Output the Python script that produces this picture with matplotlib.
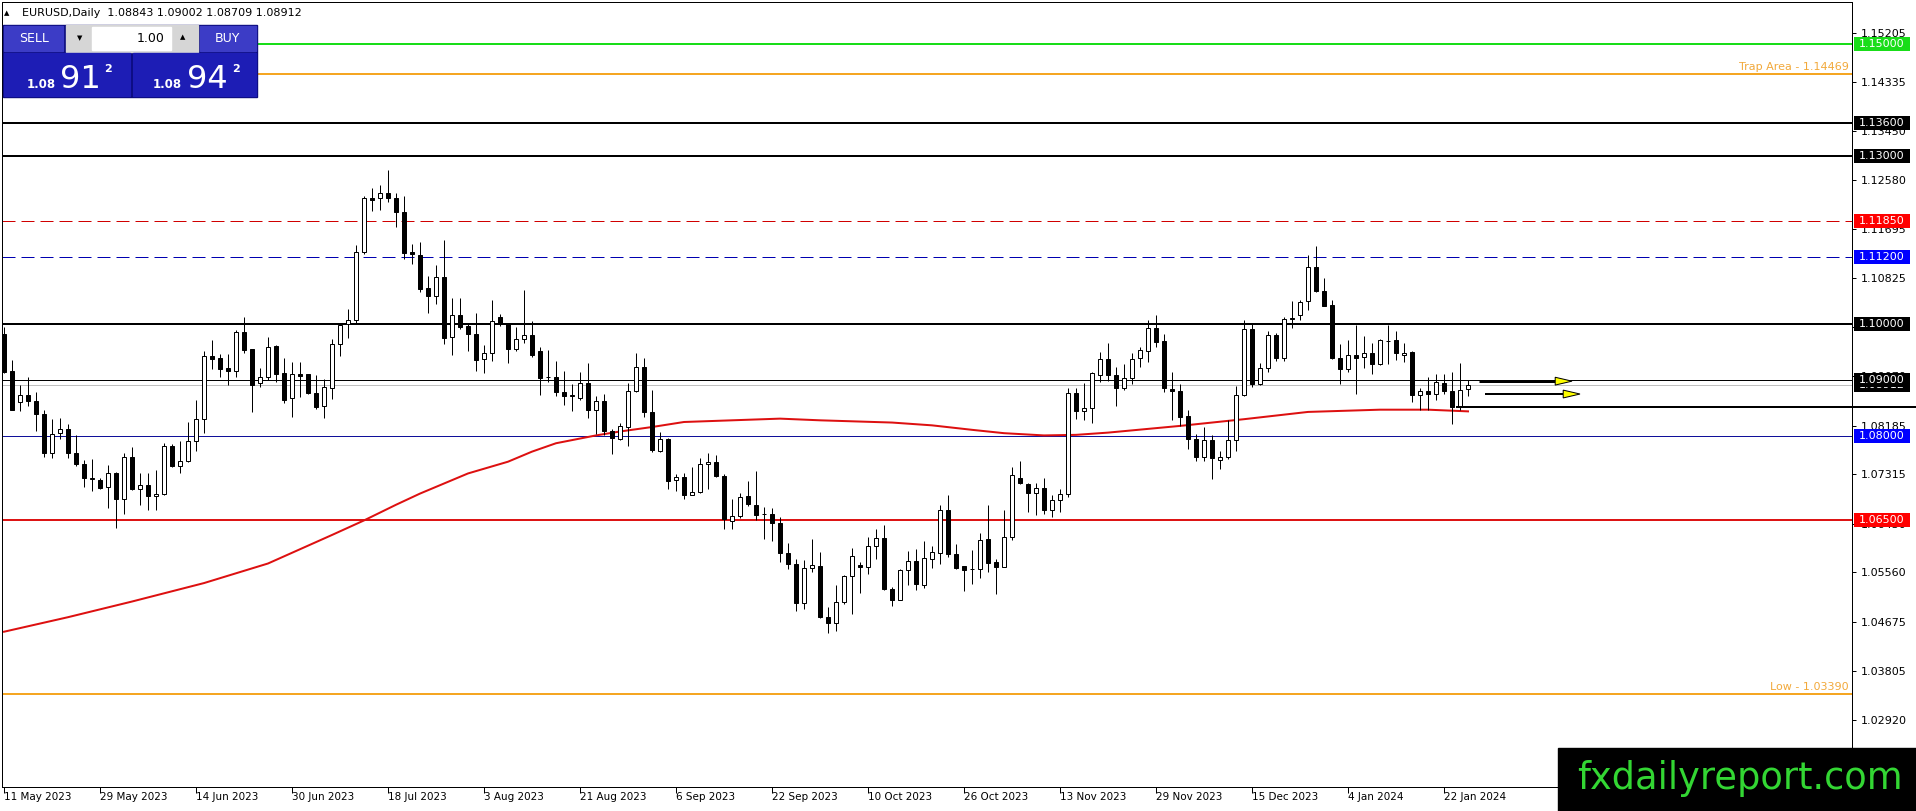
import matplotlib
matplotlib.use("Agg")
import matplotlib.pyplot as plt
from matplotlib.patches import Rectangle, Polygon
from matplotlib.transforms import blended_transform_factory

W, H = 1916, 811

# daily EURUSD candles, 11 May 2023 .. 25 Jan 2024
opens = [1.0983, 1.0917, 1.0860, 1.0874, 1.0862, 1.0840, 1.0769, 1.0806, 1.0812, 1.0769,
         1.0749, 1.0723, 1.0722, 1.0708, 1.0733, 1.0688, 1.0762, 1.0706, 1.0713, 1.0692,
         1.0697, 1.0782, 1.0747, 1.0756, 1.0791, 1.0830, 1.0943, 1.0939, 1.0921, 1.0917,
         1.0985, 1.0955, 1.0894, 1.0905, 1.0961, 1.0912, 1.0867, 1.0910, 1.0910, 1.0877,
         1.0854, 1.0886, 1.0964, 1.1000, 1.1007, 1.1129, 1.1225, 1.1225, 1.1234, 1.1226,
         1.1200, 1.1129, 1.1123, 1.1064, 1.1051, 1.1084, 1.0977, 1.1017, 1.0996, 1.0983,
         1.0937, 1.0948, 1.1013, 1.1000, 1.0955, 1.0974, 1.0980, 1.0952, 1.0906, 1.0906,
         1.0878, 1.0872, 1.0867, 1.0894, 1.0846, 1.0863, 1.0809, 1.0795, 1.0816, 1.0880,
         1.0923, 1.0842, 1.0774, 1.0794, 1.0721, 1.0726, 1.0695, 1.0700, 1.0749, 1.0753,
         1.0728, 1.0648, 1.0657, 1.0692, 1.0677, 1.0661, 1.0661, 1.0645, 1.0591, 1.0571,
         1.0502, 1.0564, 1.0568, 1.0476, 1.0466, 1.0503, 1.0549, 1.0570, 1.0566, 1.0604,
         1.0618, 1.0527, 1.0507, 1.0560, 1.0577, 1.0533, 1.0580, 1.0591, 1.0668, 1.0589,
         1.0567, 1.0563, 1.0563, 1.0615, 1.0575, 1.0566, 1.0619, 1.0725, 1.0715, 1.0698,
         1.0707, 1.0668, 1.0685, 1.0697, 1.0877, 1.0844, 1.0850, 1.0909, 1.0938, 1.0909,
         1.0886, 1.0903, 1.0939, 1.0952, 1.0993, 1.0969, 1.0884, 1.0880, 1.0835, 1.0795,
         1.0762, 1.0792, 1.0757, 1.0762, 1.0793, 1.0874, 1.0992, 1.0893, 1.0922, 1.0980,
         1.0940, 1.1011, 1.1017, 1.1041, 1.1103, 1.1060, 1.1035, 1.0940, 1.0920, 1.0944,
         1.0941, 1.0949, 1.0929, 1.0970, 1.0972, 1.0945, 1.0950, 1.0874, 1.0881, 1.0875,
         1.0894, 1.0881, 1.0852, 1.08843]
highs = [1.0995, 1.0936, 1.0891, 1.0905, 1.0878, 1.0847, 1.0830, 1.0833, 1.0821, 1.0801,
         1.0757, 1.0758, 1.0724, 1.0748, 1.0736, 1.0769, 1.0780, 1.0733, 1.0733, 1.0740,
         1.0787, 1.0785, 1.0791, 1.0825, 1.0864, 1.0952, 1.0971, 1.0946, 1.0946, 1.0990,
         1.1013, 1.0955, 1.0921, 1.0977, 1.0962, 1.0940, 1.0933, 1.0933, 1.0911, 1.0909,
         1.0901, 1.0973, 1.1001, 1.1027, 1.1141, 1.1229, 1.1244, 1.1249, 1.1275, 1.1234,
         1.1229, 1.1144, 1.1147, 1.1086, 1.1106, 1.1150, 1.1046, 1.1046, 1.1002, 1.1019,
         1.0962, 1.1043, 1.1018, 1.1002, 1.0995, 1.1061, 1.1005, 1.0959, 1.0954, 1.0934,
         1.0917, 1.0893, 1.0914, 1.0931, 1.0872, 1.0875, 1.0812, 1.0824, 1.0895, 1.0948,
         1.0939, 1.0883, 1.0807, 1.0797, 1.0732, 1.0733, 1.0744, 1.0760, 1.0769, 1.0766,
         1.0732, 1.0688, 1.0698, 1.0719, 1.0737, 1.0673, 1.0672, 1.0655, 1.0608, 1.0580,
         1.0579, 1.0616, 1.0592, 1.0494, 1.0533, 1.0552, 1.0600, 1.0574, 1.0619, 1.0634,
         1.0640, 1.0530, 1.0563, 1.0595, 1.0598, 1.0613, 1.0604, 1.0677, 1.0694, 1.0607,
         1.0568, 1.0596, 1.0626, 1.0676, 1.0580, 1.0668, 1.0745, 1.0756, 1.0716, 1.0716,
         1.0725, 1.0695, 1.0706, 1.0886, 1.0886, 1.0895, 1.0914, 1.0951, 1.0966, 1.0923,
         1.0929, 1.0948, 1.0959, 1.1008, 1.1017, 1.0983, 1.0914, 1.0893, 1.0847, 1.0804,
         1.0816, 1.0801, 1.0773, 1.0828, 1.0890, 1.1008, 1.1002, 1.0931, 1.0987, 1.0984,
         1.1013, 1.1041, 1.1044, 1.1123, 1.1139, 1.1083, 1.1044, 1.0965, 1.0972, 1.0999,
         1.0978, 1.0966, 1.0974, 1.0999, 1.0987, 1.0966, 1.0952, 1.0886, 1.0906, 1.0911,
         1.0910, 1.0914, 1.0931, 1.09002]
lows = [1.0912, 1.0846, 1.0845, 1.0853, 1.0809, 1.0762, 1.0760, 1.0795, 1.0760, 1.0747,
        1.0708, 1.0702, 1.0706, 1.0672, 1.0636, 1.0661, 1.0703, 1.0676, 1.0667, 1.0667,
        1.0695, 1.0744, 1.0733, 1.0754, 1.0774, 1.0805, 1.0919, 1.0906, 1.0891, 1.0906,
        1.0949, 1.0843, 1.0888, 1.0900, 1.0897, 1.0859, 1.0834, 1.0870, 1.0875, 1.0849,
        1.0833, 1.0866, 1.0943, 1.0976, 1.1001, 1.1126, 1.1203, 1.1204, 1.1219, 1.1174,
        1.1117, 1.1108, 1.1057, 1.1020, 1.1036, 1.0965, 1.0944, 1.0992, 1.0952, 1.0917,
        1.0912, 1.0934, 1.0997, 1.0930, 1.0952, 1.0967, 1.0942, 1.0873, 1.0897, 1.0871,
        1.0855, 1.0845, 1.0864, 1.0833, 1.0803, 1.0801, 1.0767, 1.0793, 1.0782, 1.0879,
        1.0834, 1.0772, 1.0772, 1.0706, 1.0702, 1.0687, 1.0694, 1.0698, 1.0706, 1.0727,
        1.0633, 1.0633, 1.0653, 1.0674, 1.0650, 1.0616, 1.0613, 1.0574, 1.0563, 1.0487,
        1.0491, 1.0557, 1.0475, 1.0448, 1.0451, 1.0499, 1.0482, 1.0519, 1.0554, 1.0580,
        1.0525, 1.0496, 1.0506, 1.0533, 1.0524, 1.0528, 1.0564, 1.0571, 1.0583, 1.0563,
        1.0523, 1.0536, 1.0546, 1.0557, 1.0518, 1.0565, 1.0614, 1.0715, 1.0664, 1.0659,
        1.0661, 1.0655, 1.0664, 1.0691, 1.0831, 1.0829, 1.0824, 1.0896, 1.0898, 1.0853,
        1.0883, 1.0893, 1.0923, 1.0933, 1.0959, 1.0878, 1.0828, 1.0817, 1.0777, 1.0756,
        1.0755, 1.0723, 1.0741, 1.0759, 1.0774, 1.0871, 1.0887, 1.0892, 1.0914, 1.0934,
        1.0934, 1.0993, 1.1008, 1.1026, 1.1057, 1.1032, 1.0937, 1.0893, 1.0914, 1.0875,
        1.0922, 1.0910, 1.0926, 1.0929, 1.0936, 1.0932, 1.0861, 1.0847, 1.0847, 1.0865,
        1.0875, 1.0822, 1.0847, 1.08709]
closes = [1.0915, 1.0847, 1.0874, 1.0862, 1.0840, 1.0769, 1.0803, 1.0812, 1.0769, 1.0749,
          1.0724, 1.0725, 1.0707, 1.0733, 1.0688, 1.0762, 1.0706, 1.0712, 1.0692, 1.0697,
          1.0782, 1.0747, 1.0756, 1.0791, 1.0830, 1.0943, 1.0938, 1.0920, 1.0917, 1.0985,
          1.0954, 1.0891, 1.0905, 1.0959, 1.0911, 1.0864, 1.0910, 1.0908, 1.0877, 1.0852,
          1.0888, 1.0965, 1.0999, 1.1007, 1.1129, 1.1225, 1.1222, 1.1235, 1.1226, 1.1200,
          1.1128, 1.1125, 1.1063, 1.1051, 1.1085, 1.0976, 1.1016, 1.0995, 1.0983, 1.0936,
          1.0948, 1.1006, 1.1000, 1.0955, 1.0973, 1.0980, 1.0945, 1.0904, 1.0905, 1.0878,
          1.0871, 1.0873, 1.0894, 1.0846, 1.0863, 1.0809, 1.0796, 1.0818, 1.0880, 1.0923,
          1.0842, 1.0775, 1.0794, 1.0720, 1.0726, 1.0695, 1.0700, 1.0750, 1.0753, 1.0729,
          1.0651, 1.0657, 1.0691, 1.0679, 1.0659, 1.0660, 1.0645, 1.0591, 1.0571, 1.0502,
          1.0564, 1.0570, 1.0476, 1.0466, 1.0503, 1.0550, 1.0586, 1.0566, 1.0604, 1.0618,
          1.0526, 1.0507, 1.0560, 1.0577, 1.0536, 1.0582, 1.0592, 1.0668, 1.0589, 1.0564,
          1.0561, 1.0562, 1.0614, 1.0573, 1.0566, 1.0619, 1.0731, 1.0716, 1.0698, 1.0707,
          1.0667, 1.0686, 1.0697, 1.0877, 1.0844, 1.0850, 1.0913, 1.0938, 1.0909, 1.0886,
          1.0903, 1.0938, 1.0953, 1.0993, 1.0968, 1.0886, 1.0880, 1.0834, 1.0795, 1.0762,
          1.0792, 1.0760, 1.0763, 1.0793, 1.0874, 1.0992, 1.0893, 1.0922, 1.0980, 1.0940,
          1.1010, 1.1009, 1.1039, 1.1102, 1.1060, 1.1033, 1.0939, 1.0920, 1.0944, 1.0940,
          1.0949, 1.0929, 1.0971, 1.0969, 1.0949, 1.0949, 1.0874, 1.0881, 1.0875, 1.0896,
          1.0880, 1.0852, 1.0883, 1.08912]

# moving average (red curve), sampled at bar indices
ma_idx = [0, 8, 16, 25, 33, 41, 45, 49, 52, 58, 63, 66, 69, 74, 77, 81, 85, 93, 97, 102,
          111, 116, 121, 125, 130, 134, 138, 147, 155, 163, 172, 178, 183]
ma_val = [1.0450, 1.0476, 1.0504, 1.0537, 1.0572, 1.0623, 1.0649, 1.0677, 1.0697, 1.0733,
          1.0754, 1.0772, 1.0787, 1.0801, 1.0808, 1.0816, 1.0825, 1.0829, 1.0831, 1.0828,
          1.0824, 1.0819, 1.0811, 1.0805, 1.0801, 1.0802, 1.0806, 1.0818, 1.0830, 1.0843,
          1.0847, 1.0847, 1.0844]

date_idx = [0, 12, 24, 36, 48, 60, 72, 84, 96, 108, 120, 132, 144, 156, 168, 180]
date_labels = ["11 May 2023", "29 May 2023", "14 Jun 2023", "30 Jun 2023", "18 Jul 2023",
               "3 Aug 2023", "21 Aug 2023", "6 Sep 2023", "22 Sep 2023", "10 Oct 2023",
               "26 Oct 2023", "13 Nov 2023", "29 Nov 2023", "15 Dec 2023", "4 Jan 2024",
               "22 Jan 2024"]

price_ticks = [1.15205, 1.14335, 1.13450, 1.12580, 1.11695, 1.10825, 1.09940, 1.09070,
               1.08185, 1.07315, 1.06430, 1.05560, 1.04675, 1.03805, 1.02920]

# horizontal levels drawn on the chart
level_prices = [1.15000, 1.14469, 1.13600, 1.13000, 1.11850, 1.11200, 1.10000, 1.09000,
                1.08912, 1.08000, 1.06500, 1.03390]
level_names = ["", "Trap Area", "", "", "", "", "", "", "", "", "", "Low"]
trend_price = 1.0851
trend_start = 181.6
arrow_prices = [1.0898, 1.0875]
arrow_start = [184.4, 185.1]
arrow_end = [196.0, 197.0]

sell_big, buy_big = "91", "94"

PX = 0.72  # one pixel in points at dpi 100

level_style = {
    1.15000: dict(color="#19dd19", lw=2 * PX, ls="-", box="#19dd19"),
    1.14469: dict(color="#f5a623", lw=2 * PX, ls="-", box=None),
    1.13600: dict(color="black", lw=2 * PX, ls="-", box="black"),
    1.13000: dict(color="black", lw=2 * PX, ls="-", box="black"),
    1.11850: dict(color="#d00000", lw=PX, ls=(0, (13, 6)), box="#ff0000"),
    1.11200: dict(color="#0000b0", lw=PX, ls=(0, (13, 6)), box="#0000ff"),
    1.10000: dict(color="black", lw=2 * PX, ls="-", box="black"),
    1.09000: dict(color="black", lw=PX, ls="-", box="black"),
    1.08912: dict(color="#c0c0c0", lw=PX, ls="-", box="black"),
    1.08000: dict(color="#10109a", lw=PX, ls="-", box="#0000ff"),
    1.06500: dict(color="#dd1515", lw=2 * PX, ls="-", box="#ff0000"),
    1.03390: dict(color="#f5a623", lw=2 * PX, ls="-", box=None),
}

fig = plt.figure(figsize=(W / 100, H / 100), dpi=100)
fig.patch.set_facecolor("white")
ax = fig.add_axes([2 / W, 24 / H, 1850 / W, 785 / H])
ax.set_xlim(-0.25, 231.0)
ax.set_ylim(1.01724, 1.15759)
for sp in ax.spines.values():
    sp.set_linewidth(PX)
    sp.set_color("black")

# levels (bid box first so the 1.09000 label sits on top of it)
ytr = blended_transform_factory(ax.transAxes, ax.transData)
box_h = 14 * (1.15759 - 1.01724) / 785
order = [1.08912] + [p for p in level_prices if p != 1.08912]
for k, p in enumerate(order):
    st = level_style[p]
    ax.axhline(p, color=st["color"], lw=st["lw"], ls=st["ls"], zorder=1)
    if st["box"] is not None:
        ax.add_patch(Rectangle((1.0011, p - box_h / 2), 56 / 1850, box_h, transform=ytr,
                               facecolor=st["box"], edgecolor="none", clip_on=False,
                               zorder=10 + 2 * k))
        ax.text(1.0038, p, "%.5f" % p, transform=ytr, color="white", fontsize=8,
                ha="left", va="center", clip_on=False, zorder=11 + 2 * k)
for p, name in zip(level_prices, level_names):
    if name:
        ax.annotate("%s - %.5f" % (name, p), xy=(1.0, p), xycoords=ytr,
                    xytext=(-3, 2), textcoords="offset pixels", ha="right", va="bottom",
                    color="#f2a93b", fontsize=8, zorder=5)

# moving average
ax.plot(ma_idx, ma_val, color="#dd1010", lw=2 * PX, zorder=2)

# candles
for i, (o, h, l, c) in enumerate(zip(opens, highs, lows, closes)):
    ax.plot([i, i], [l, h], color="black", lw=PX, zorder=3, solid_capstyle="butt")
    bull = c >= o
    ax.add_patch(Rectangle((i - 0.3, min(o, c)), 0.6, max(abs(c - o), 0.00003),
                           facecolor="white" if bull else "black", edgecolor="black",
                           lw=PX, zorder=4))

# trend line reaching out past the price scale
ax.plot([trend_start, 240], [trend_price, trend_price], color="black", lw=2 * PX,
        clip_on=False, zorder=40)

# arrows
for k, (yv, x0, x1) in enumerate(zip(arrow_prices, arrow_start, arrow_end)):
    hl = 2.1
    hh = 0.0007
    ax.plot([x0, x1 - hl], [yv, yv], color="black", lw=(3 if k == 0 else 2) * PX,
            zorder=5, solid_capstyle="butt")
    ax.add_patch(Polygon([(x1 - hl, yv - hh), (x1, yv), (x1 - hl, yv + hh)], closed=True,
                         facecolor="#ffff00", edgecolor="black", lw=PX, zorder=6))

# price scale
ax.yaxis.tick_right()
ax.set_yticks(price_ticks)
ax.set_yticklabels(["%.5f" % v for v in price_ticks])
ax.tick_params(axis="y", length=3, width=PX, pad=3, labelsize=8, colors="black")

# time scale
ax.set_xticks(date_idx)
ax.set_xticklabels([])
ax.tick_params(axis="x", length=4, width=PX, direction="out")
xtr = blended_transform_factory(ax.transData, ax.transAxes)
for d, lab in zip(date_idx, date_labels):
    ax.annotate(lab, xy=(d, 0), xycoords=xtr, xytext=(0, -5), textcoords="offset pixels",
                ha="left", va="top", fontsize=7.5, annotation_clip=False)


def frect(x0, y0, x1, y1, **kw):
    fig.patches.append(Rectangle((x0 / W, 1 - y1 / H), (x1 - x0) / W, (y1 - y0) / H,
                                 transform=fig.transFigure, **kw))


def ftext(x, y, s, **kw):
    fig.text(x / W, 1 - y / H, s, **kw)


# header
ftext(6.5, 13, "\u25b2", fontsize=5, ha="center", va="center")
ftext(22, 13, "EURUSD,Daily  %.5f %.5f %.5f %.5f" % (opens[-1], highs[-1], lows[-1], closes[-1]),
      fontsize=8, ha="left", va="center")

# one click trading panel
frect(3, 25, 257, 97, color="#0a0a7a", zorder=2)
frect(4, 26, 63, 51, color="#3c3cc6", zorder=3)
frect(200, 26, 256, 51, color="#3c3cc6", zorder=3)
frect(66, 25, 198, 52, color="#d6d6d6", zorder=3)
frect(92, 27, 171, 50, color="white", zorder=4)
frect(4, 53, 130, 96, color="#1d1db5", zorder=3)
frect(133, 53, 256, 96, color="#1d1db5", zorder=3)
ftext(34, 39, "SELL", color="white", fontsize=9, ha="center", va="center", zorder=5)
ftext(227, 39, "BUY", color="white", fontsize=9, ha="center", va="center", zorder=5)
ftext(165, 38, "1.00", color="black", fontsize=9, ha="right", va="center", zorder=5)
ftext(80, 38, "\u25bc", fontsize=5, ha="center", va="center", zorder=5)
ftext(183, 37, "\u25b2", fontsize=5, ha="center", va="center", zorder=5)
ftext(41, 88, "1.08", color="white", fontsize=8.5, fontweight="bold", ha="center",
      va="baseline", zorder=5)
ftext(80, 88, sell_big, color="white", fontsize=23, ha="center", va="baseline", zorder=5)
ftext(108, 72, "2", color="white", fontsize=8, fontweight="bold", ha="center",
      va="baseline", zorder=5)
ftext(167, 88, "1.08", color="white", fontsize=8.5, fontweight="bold", ha="center",
      va="baseline", zorder=5)
ftext(207, 88, buy_big, color="white", fontsize=23, ha="center", va="baseline", zorder=5)
ftext(236, 72, "2", color="white", fontsize=8, fontweight="bold", ha="center",
      va="baseline", zorder=5)

# watermark
frect(1558, 748, 1916, 811, color="black", zorder=5)
ftext(1740, 789, "fxdailyreport.com", color="#33d633", fontsize=26.5, ha="center",
      va="baseline", zorder=6)

fig.savefig("out.png", dpi=100)
